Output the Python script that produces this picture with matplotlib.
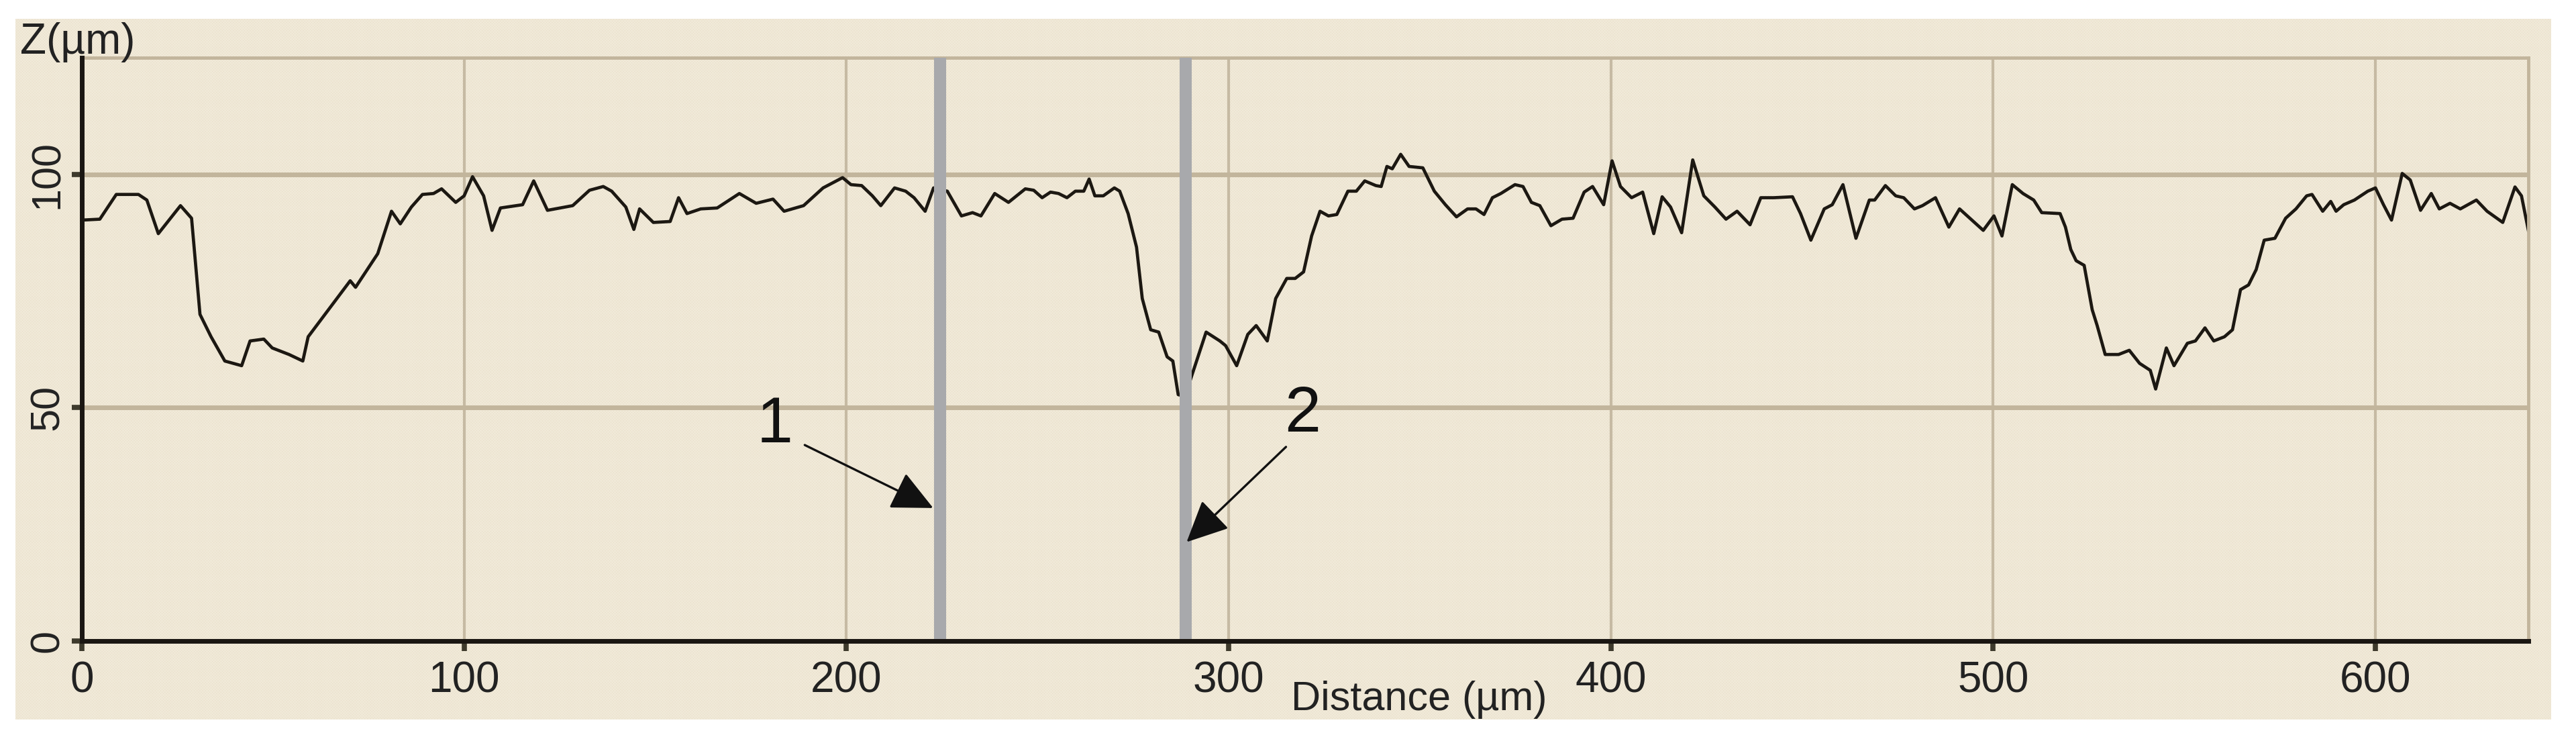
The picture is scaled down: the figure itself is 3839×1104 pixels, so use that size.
import matplotlib
matplotlib.use('Agg')
import matplotlib.pyplot as plt
from matplotlib.patches import Rectangle

# surface profile: distance (um) and height Z (um)
profile_x = [0, 4.7, 9, 14.8, 17, 20, 25.8, 28.7, 30.9, 33.8, 37.4, 41.8, 44, 47.6,
             49.8, 54.2, 57.8, 59.2, 65.8, 70.2, 71.6, 77.4, 81, 83.3, 86.2, 89.1,
             92, 94.1, 97.8, 100, 102.2, 105.1, 107.3, 109.5, 115.3, 118.2, 121.8,
             128.4, 132.8, 136.4, 138.6, 142.3, 144.4, 145.9, 149.5, 153.9, 156.1,
             158.3, 161.9, 166.2, 172, 176.4, 180.8, 183.7, 188.8, 193.9, 199, 201.2,
             204, 206.8, 209, 212.6, 215.5, 217.7, 220.6, 222.8, 226.4, 230.1, 233,
             235.2, 238.8, 242.4, 246.8, 249, 251.2, 253.4, 255.5, 257.7, 259.9,
             262.1, 263.5, 265, 267.2, 270.1, 271.5, 273.7, 275.9, 277.4, 279.6,
             281.7, 283.9, 285.4, 286.8, 288.2, 290, 291.2, 294.1, 297.7, 299.2,
             302.1, 305, 307.2, 310.1, 312.3, 315.2, 317.4, 319.6, 321.7, 323.9,
             326.1, 328.3, 331.2, 333.4, 335.6, 338.5, 339.9, 341.4, 342.8, 345,
             347.2, 350.8, 353.8, 356.7, 359.6, 362.5, 364.7, 366.8, 369, 371.2,
             374.9, 377, 379.2, 381.4, 384.3, 387.2, 390.1, 393, 395.2, 398.1,
             400.3, 402.5, 405.4, 408.3, 411.2, 413.4, 415.6, 418.5, 421.4, 424.3,
             427.2, 430.1, 433, 436.4, 439.2, 442.6, 447.5, 449.6, 452.3, 455.8,
             457.9, 460.7, 464.1, 467.6, 469, 471.8, 474.5, 476.6, 479.4, 481.5,
             484.9, 488.4, 491.2, 493.9, 497.4, 500.2, 502.3, 505, 507.8, 510.6,
             512.7, 517.5, 518.9, 520.3, 521.7, 523.8, 525.9, 527.2, 529.3, 532.8,
             535.6, 538.3, 541.1, 542.5, 545.3, 547.3, 550.8, 552.9, 555.4, 557.7,
             560.5, 562.6, 564.7, 566.8, 568.8, 570.9, 573.7, 576.5, 579.2, 582,
             583.4, 586.2, 588.3, 589.7, 591.7, 594.5, 598, 600, 602.1, 604.2, 607,
             609.1, 611.8, 614.6, 616.7, 619.5, 622.2, 626.4, 629.2, 633.3, 636.5,
             638.2, 640]
profile_z = [90.2, 90.4, 95.7, 95.7, 94.5, 87.3, 93.3, 90.6, 70, 65.2, 60, 59, 64.3, 64.7,
             62.8, 61.4, 60, 65.2, 72.4, 77.2, 75.8, 83, 92.1, 89.4, 93, 95.7,
             95.9, 96.9, 94, 95.4, 99.5, 95.4, 88, 92.8, 93.5, 98.6, 92.3,
             93.3, 96.6, 97.4, 96.4, 93, 88.2, 92.6, 89.7, 89.9, 95,
             91.6, 92.6, 92.8, 95.9, 93.8, 94.7, 92.1, 93.3, 97.1, 99.3, 97.8,
             97.6, 95.4, 93.3, 97.1, 96.4, 95, 92.1, 97.1, 96.4, 91.1, 91.8,
             91.1, 95.9, 94, 96.9, 96.6, 95, 96.2, 95.9, 95, 96.4,
             96.4, 99, 95.4, 95.4, 97.1, 96.4, 91.6, 84.4, 73.4, 66.7,
             66.2, 60.9, 60, 52.8, 52.5, 56, 59, 66.2, 64.3, 63.3,
             59, 65.7, 67.6, 64.3, 73.4, 77.7, 77.7, 79.1, 86.8, 92.1,
             91.1, 91.4, 96.4, 96.4, 98.6, 97.6, 97.4, 101.7, 101.2, 104.3,
             101.7, 101.4, 96.4, 93.5, 90.9, 92.6, 92.6, 91.4, 95, 95.9,
             97.8, 97.4, 94, 93.3, 89, 90.4, 90.6, 96.2, 97.4, 93.5,
             102.9, 97.4, 95, 96.2, 87.3, 95.2, 93, 87.5, 103.1, 95.4,
             93, 90.4, 92.1, 89.2, 95, 95, 95.2, 91.6, 85.9, 92.6,
             93.5, 97.8, 86.3, 94.5, 94.5, 97.6, 95.4, 95, 92.6, 93.3,
             95, 88.7, 92.6, 90.6, 88, 91.1, 86.8, 97.8, 95.9, 94.5,
             91.8, 91.6, 88.7, 83.9, 81.5, 80.5, 71, 67.6, 61.4, 61.4,
             62.3, 59.5, 58, 54, 62.8, 59, 63.8, 64.3, 67.1, 64.3,
             65.2, 66.7, 75.3, 76.3, 79.6, 85.9, 86.3, 90.6, 92.6, 95.4,
             95.7, 92.1, 94.2, 92.1, 93.5, 94.5, 96.4, 97.1, 93.5, 90.2, 100.2,
             98.8, 92.3, 95.9, 92.6, 93.8, 92.6, 94.5, 92.1, 89.7, 97.3,
             95.4, 88]

# the two grey cursors and their numbered arrows
cursor_x = [224.5, 288.8]
cursor_top = 125
marker_labels = ['1', '2']
label_x = [181.3, 319.3]
label_z = [46.2, 48.5]
arrow_tail_x = [189.1, 315.0]
arrow_tail_z = [42.0, 41.6]
arrow_tip_x = [222.7, 289.0]
arrow_tip_z = [28.5, 21.2]

x_ticks = [0, 100, 200, 300, 400, 500, 600]
z_ticks = [0, 50, 100]

plt.rcParams['font.family'] = ['Liberation Sans Narrow', 'Liberation Sans', 'DejaVu Sans']
plt.rcParams['hatch.linewidth'] = 1.2

W, H = 3839, 1104
fig = plt.figure(figsize=(W / 100, H / 100), dpi=100)
fig.patch.set_facecolor('white')

# beige textured panel behind everything
panel = Rectangle((23 / W, 1 - 1072 / H), (3802 - 23) / W, (1072 - 28) / H,
                  transform=fig.transFigure, facecolor='#e7ddc6', edgecolor='#f0e9d8',
                  linewidth=0, hatch='xxxxxxxx', zorder=-5)
fig.patches.append(panel)

ax = fig.add_axes([122 / W, 1 - 955 / H, (3768 - 122) / W, (955 - 86) / H])
ax.patch.set_alpha(0)

ax.plot(profile_x, profile_z, color='#1c1812', lw=3.4, zorder=2)
ax.vlines(cursor_x, 0, cursor_top, colors='#a8a9ac', lw=13, zorder=3)

for lab, lx, lz, tx, tz, hx, hz in zip(marker_labels, label_x, label_z,
                                        arrow_tail_x, arrow_tail_z, arrow_tip_x, arrow_tip_z):
    ax.text(lx, lz, lab, fontsize=70, ha='center', va='center', color='#111111',
            family=['Liberation Sans', 'DejaVu Sans'], zorder=4)
    ax.annotate('', xy=(hx, hz), xytext=(tx, tz), zorder=4,
                arrowprops=dict(arrowstyle='-|>,head_length=0.8,head_width=0.38',
                                mutation_scale=48, lw=2.4, color='#111111',
                                shrinkA=0, shrinkB=0))

ax.set_xlim(0, 640)
ax.set_ylim(0, 125)
ax.set_xticks(x_ticks)
ax.set_yticks(z_ticks)
ax.set_yticklabels([str(t) for t in z_ticks], rotation=90, va='center')

ax.set_axisbelow(True)
ax.xaxis.grid(True, color='#c6baa3', lw=3)
ax.yaxis.grid(True, color='#c2b59c', lw=5)

for s in ['left', 'bottom']:
    ax.spines[s].set_color('#1a1612')
    ax.spines[s].set_linewidth(5)
    ax.spines[s].set_zorder(5)
for s in ['top', 'right']:
    ax.spines[s].set_color('#c2b59c')
    ax.spines[s].set_linewidth(3.5)

ax.tick_params(axis='x', direction='out', length=11, width=5.5, color='#3e3a2c',
               labelsize=46, labelcolor='#222222', pad=10)
ax.tick_params(axis='y', direction='out', length=11, width=5.5, color='#3e3a2c',
               labelsize=44, labelcolor='#222222', pad=5)

ax.set_xlabel('Distance (µm)', fontsize=44, color='#222222')
ax.xaxis.label.set_va('baseline')
ax.xaxis.set_label_coords(0.5466, -0.1185)

fig.text(30 / W, 1 - 80 / H, 'Z(µm)', fontsize=46, color='#222222', ha='left', va='baseline')

fig.savefig('out.png', dpi=100)
